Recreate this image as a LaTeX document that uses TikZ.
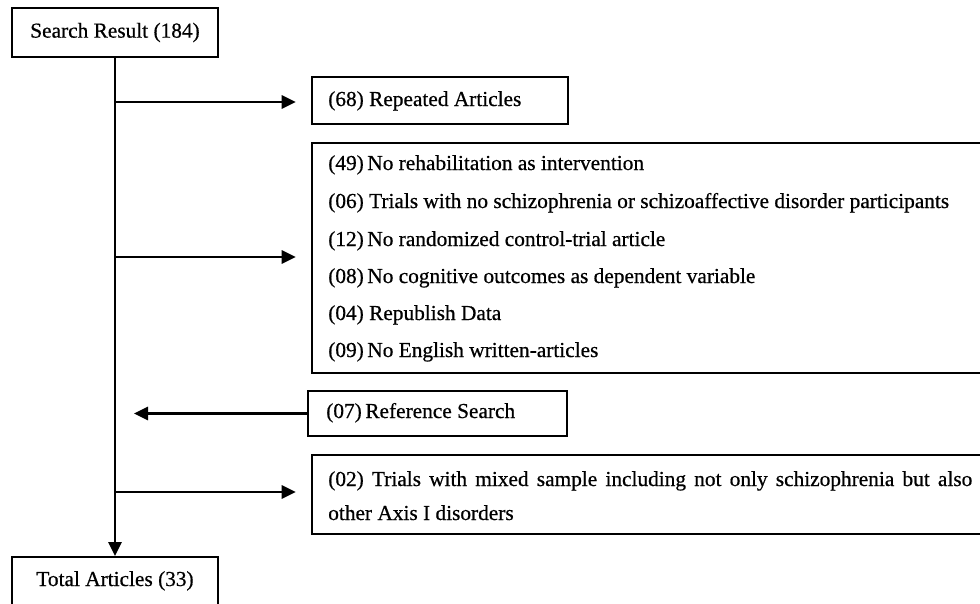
\documentclass[tikz,border=0pt]{standalone}
\usepackage{fontspec}
\setmainfont[FakeBold=0.6]{Liberation Serif}
\usetikzlibrary{arrows.meta}
\begin{document}
\begin{tikzpicture}[x=0.75pt,y=-0.75pt,
  box/.style={draw, line width=1.5pt, rectangle, inner sep=0pt},
  txt/.style={font=\fontsize{16pt}{19pt}\selectfont, inner sep=0pt},
  conn/.style={line width=1.6pt, -{Triangle[length=10.5pt,width=10pt]}},
]
\clip (0,0) rectangle (980,603);
\fill[white] (0,0) rectangle (980,603);
% boxes
\node[box, txt, minimum width=154.5pt, minimum height=36.75pt] (search) at (115,32.5) {Search Result (184)};
\node[box, minimum width=192pt, minimum height=35.25pt] (rep) at (440,100.5) {};
\node[box, minimum width=516pt, minimum height=172.5pt] (excl) at (656,258) {};
\node[box, minimum width=194.25pt, minimum height=33.75pt] (ref) at (437.5,413.5) {};
\node[box, minimum width=516pt, minimum height=59.25pt] (mixed) at (656,494.5) {};
\node[box, minimum width=154.5pt, minimum height=69.75pt] (total) at (115,603.5) {};
% texts
\node[txt, anchor=base west] (trep) at (328,106) {(68) Repeated Articles};
\node[txt, anchor=base west] (e1) at (328,170) {(49)\,No rehabilitation as intervention};
\node[txt, anchor=base west] (e2) at (328,208) {(06) Trials with no schizophrenia or schizoaffective disorder participants};
\node[txt, anchor=base west] (e3) at (328,246) {(12)\,No randomized control-trial article};
\node[txt, anchor=base west] (e4) at (328,283) {(08)\,No cognitive outcomes as dependent variable};
\node[txt, anchor=base west] (e5) at (328,320) {(04) Republish Data};
\node[txt, anchor=base west] (e6) at (328,357) {(09)\,No English written-articles};
\node[txt, anchor=base west] (tref) at (326,418) {(07)\,Reference Search};
\node[txt, anchor=base west] (m1) at (328,486) {\makebox[483pt][s]{(02) Trials with mixed sample including not only schizophrenia but also}};
\node[txt, anchor=base west] (m2) at (328,520) {other Axis I disorders};
\node[txt, anchor=base] (ttotal) at (115,586) {Total Articles (33)};
% connectors
\coordinate (j1) at (115,102);
\coordinate (j2) at (115,257);
\coordinate (j3) at (115,492);
\draw[conn] (search.south) -- (total.north);
\draw[conn, shorten >=11.5pt] (j1) -- (j1 -| rep.west);
\draw[conn, shorten >=11.5pt] (j2) -- (j2 -| excl.west);
\draw[conn, shorten >=11.5pt] (j3) -- (j3 -| mixed.west);
\draw[conn, shorten >=14.25pt] (ref.west) -- (ref.west -| j1);
\end{tikzpicture}
\end{document}
